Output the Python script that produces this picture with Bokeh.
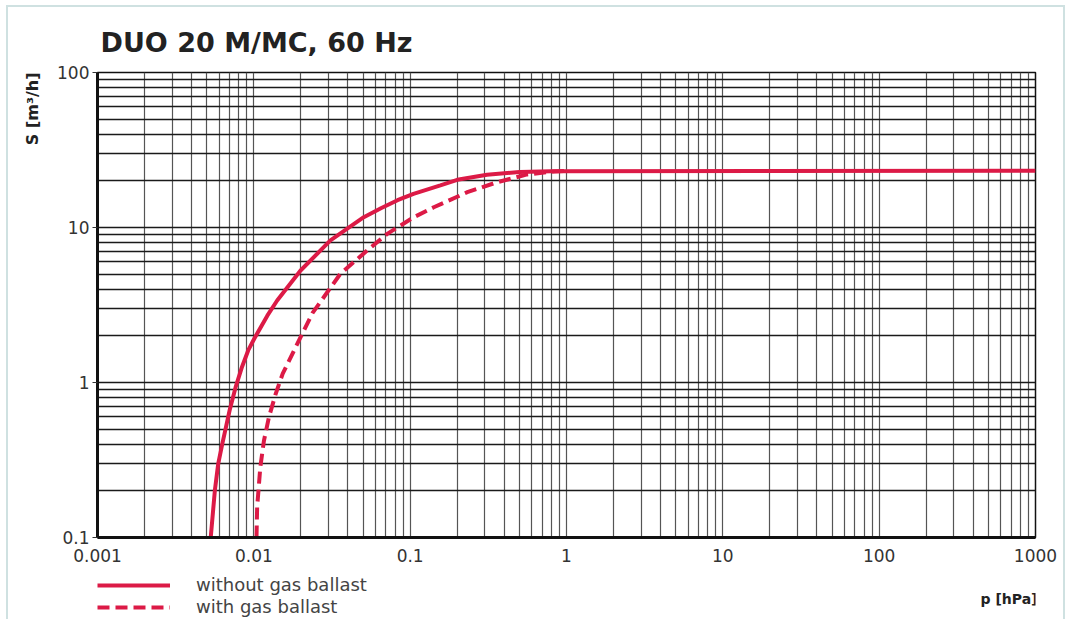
from bokeh.plotting import figure
from bokeh.layouts import column
from bokeh.models import (Range1d, FixedTicker, CustomJSTickFormatter, Legend, LegendItem,
                          Label, Title)
from bokeh.embed import file_html
from bokeh.resources import INLINE

title_text = "DUO 20 M/MC, 60 Hz"
x_label = "p [hPa]"
y_label = "S [m³/h]"
series_names = ["without gas ballast", "with gas ballast"]

x_major = [0.001, 0.01, 0.1, 1, 10, 100, 1000]
y_major = [0.1, 1, 10, 100]

# without gas ballast
p_without = [0.0053, 0.00563, 0.00592, 0.00628, 0.00659, 0.00702, 0.00764, 0.0084,
             0.0092, 0.0101, 0.0122, 0.0141, 0.0199, 0.0309, 0.0505, 0.065, 0.083,
             0.105, 0.156, 0.2, 0.31, 0.5, 0.8, 1000]
s_without = [0.1, 0.2, 0.3, 0.4, 0.5, 0.67, 0.93, 1.26,
             1.61, 1.93, 2.7, 3.38, 5.28, 8.25, 11.65, 13.3, 15.0,
             16.5, 18.7, 20.3, 21.9, 22.8, 23.1, 23.2]

# with gas ballast
p_with = [0.0104, 0.0105, 0.0110, 0.0116, 0.0125, 0.0138, 0.0153, 0.0204, 0.0237,
          0.0358, 0.0531, 0.0713, 0.1055, 0.1416, 0.232, 0.36, 0.56, 0.83, 1.0]
s_with = [0.1, 0.157, 0.284, 0.42, 0.60, 0.845, 1.14, 2.06, 2.8,
          5.03, 7.11, 9.1, 11.65, 13.5, 16.9, 19.6, 22.0, 23.0, 23.2]

RED = "#dc1a46"
FONT = "DejaVu Sans"
W = 1055

def minors(majors):
    out = []
    for m in majors[:-1]:
        for k in range(2, 10):
            out.append(round(m * k, 6))
    return out

p = figure(width=W, height=568, x_axis_type="log", y_axis_type="log",
           x_range=Range1d(0.001, 1000), y_range=Range1d(0.1, 100),
           output_backend="svg", toolbar_location=None,
           min_border_left=89, min_border_right=28, min_border_top=65, min_border_bottom=38)

p.xaxis.ticker = FixedTicker(ticks=x_major, minor_ticks=minors(x_major))
p.yaxis.ticker = FixedTicker(ticks=y_major, minor_ticks=minors(y_major))
fmt = "return String(tick)"
p.xaxis.formatter = CustomJSTickFormatter(code=fmt)
p.yaxis.formatter = CustomJSTickFormatter(code=fmt)

for ax in (p.xaxis, p.yaxis):
    ax.axis_line_width = 3
    ax.axis_line_color = "#111111"
    ax.major_label_text_font = FONT
    ax.major_label_text_font_size = "17px"
    ax.major_label_text_color = "#333333"
    ax.minor_tick_out = 0
    ax.minor_tick_in = 0
    ax.major_tick_in = 0
p.xaxis.major_tick_out = 0
p.xaxis.major_label_standoff = 11
p.yaxis.major_tick_out = 5
p.yaxis.major_tick_line_color = "#333333"
p.yaxis.major_label_standoff = 3

p.xgrid.grid_line_color = "#555555"
p.xgrid.grid_line_width = 1.2
p.xgrid.minor_grid_line_color = "#555555"
p.xgrid.minor_grid_line_width = 1.2
p.ygrid.grid_line_color = "#1a1a1a"
p.ygrid.grid_line_width = 1.4
p.ygrid.minor_grid_line_color = "#1a1a1a"
p.ygrid.minor_grid_line_width = 1.4

p.outline_line_color = "#111111"
p.outline_line_width = 1.5
p.background_fill_color = "white"
p.border_fill_color = "white"

p.line(p_with, s_with, line_color=RED, line_width=4, line_dash="12 6")
p.line(p_without, s_without, line_color=RED, line_width=4)

# title
p.title.text = title_text
p.title.text_font = FONT
p.title.text_font_style = "bold"
p.title.text_font_size = "27px"
p.title.text_color = "#222222"
p.title.align = "left"
p.title.offset = 3
p.title.standoff = 30

# y label at top of the left side
p.add_layout(Title(text=y_label, align="right", text_font=FONT, text_font_style="bold",
                   text_font_size="16px", text_color="#222222", standoff=25), "left")

# footer figure holding the legend and the x label
foot = figure(width=W, height=44, output_backend="svg", toolbar_location=None,
              x_axis_location=None, y_axis_location=None,
              x_range=Range1d(0, 1), y_range=Range1d(0, 1), min_border=0)
foot.outline_line_color = None
foot.background_fill_color = "white"
foot.border_fill_color = "white"
for g in foot.grid:
    g.visible = False

f_without = foot.line(p_without, s_without, line_color=RED, line_width=4, visible=False)
f_with = foot.line(p_with, s_with, line_color=RED, line_width=4, line_dash="12 6", visible=False)

legend = Legend(items=[LegendItem(label=series_names[0], renderers=[f_without]),
                       LegendItem(label=series_names[1], renderers=[f_with])],
                location=(0, 2), glyph_width=73, glyph_height=20, label_standoff=26,
                padding=0, margin=0, spacing=1, border_line_color=None,
                background_fill_alpha=0, inactive_fill_alpha=0, label_text_font=FONT,
                label_text_font_size="18px", label_text_color="#444444")
foot.add_layout(legend)

foot.add_layout(Label(x=940, y=21, x_units="screen", y_units="screen", text=x_label,
                      text_font=FONT, text_font_style="bold", text_font_size="14px",
                      text_color="#222222", text_align="right", text_baseline="middle"))

layout = column(p, foot, spacing=0)
layout.styles = {"margin-left": "6px", "margin-top": "5px",
                 "border-left": "2px solid #cfe1e1", "border-right": "2px solid #cfe1e1",
                 "border-top": "2px solid #cfe1e1"}

open("out.html", "w").write(file_html(layout, INLINE))
